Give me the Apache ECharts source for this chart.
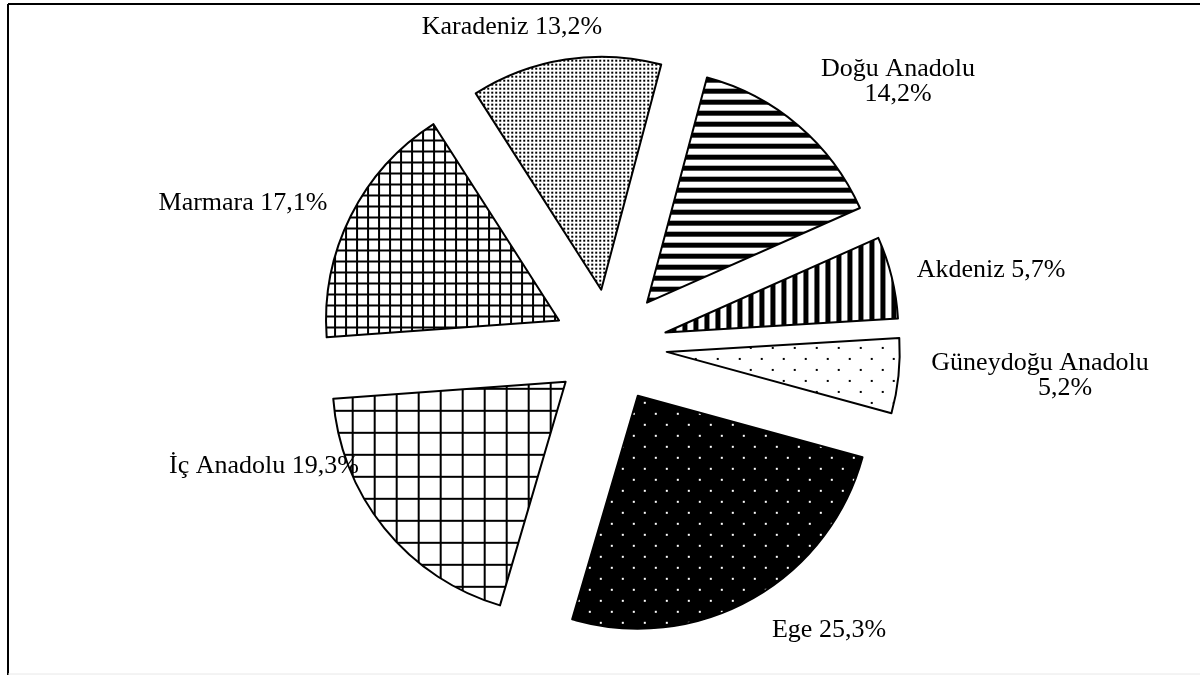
<!DOCTYPE html>
<html>
<head>
<meta charset="utf-8">
<script src="https://cdn.jsdelivr.net/npm/echarts@6/dist/echarts.min.js"></script>
<style>
  html, body { margin: 0; padding: 0; background: #fff; }
  #chart { width: 1200px; height: 675px; }
</style>
</head>
<body>
<div id="chart"></div>
<script>
// ---- Data ----
const regions = ['Karadeniz', 'Doğu Anadolu', 'Akdeniz', 'Güneydoğu Anadolu', 'Ege', 'İç Anadolu', 'Marmara'];
const shares = [13.2, 14.2, 5.7, 5.2, 25.3, 19.3, 17.1];
const wrapLabel = [false, true, false, true, false, false, false];

// ---- Layout (label anchor points, not data) ----
const labelPos = [[512, 27], [898, 82], [991, 270], [1040, 376], [829, 630], [264, 466], [243, 203]];

function tile(w, h, bg, fg, rects) {
  const c = document.createElement('canvas');
  c.width = w; c.height = h;
  const ctx = c.getContext('2d');
  ctx.fillStyle = bg; ctx.fillRect(0, 0, w, h);
  ctx.fillStyle = fg;
  rects.forEach(r => ctx.fillRect(r[0], r[1], r[2], r[3]));
  return c;
}
const patterns = [
  tile(4, 4, '#fff', '#000', [[0, 0, 2, 2]]),                       // dense dots
  tile(11, 11, '#fff', '#000', [[0, 0, 11, 5]]),                    // horizontal stripes
  tile(11, 11, '#fff', '#000', [[0, 0, 5, 11]]),                    // vertical stripes
  tile(22, 22, '#fff', '#000', [[0, 0, 2, 2], [11, 11, 2, 2]]),     // sparse dots
  tile(22, 22, '#000', '#fff', [[0, 0, 2, 2], [11, 11, 2, 2]]),     // black w/ white dots
  tile(22, 22, '#fff', '#000', [[0, 0, 22, 2], [0, 0, 2, 22]]),     // large grid
  tile(11, 11, '#fff', '#000', [[0, 0, 11, 2], [0, 0, 2, 11]])      // small grid
];

const fmt = v => v.toFixed(1).replace('.', ',') + '%';
const FONT = 'Liberation Serif';

const pieBase = {
  type: 'pie',
  center: [610, 346],
  radius: 233,
  startAngle: 122.6,
  clockwise: true,
  avoidLabelOverlap: false,
  emphasis: { disabled: true },
  labelLine: { show: false }
};

const chart = echarts.init(document.getElementById('chart'), null, { renderer: 'canvas' });
chart.setOption({
  backgroundColor: '#fff',
  animation: false,
  graphic: [
    { type: 'line', shape: { x1: 8, y1: 4, x2: 1200, y2: 4 }, style: { stroke: '#000', lineWidth: 2 } },
    { type: 'line', shape: { x1: 8, y1: 4, x2: 8, y2: 675 }, style: { stroke: '#000', lineWidth: 2 } },
    { type: 'line', shape: { x1: 8, y1: 674, x2: 1200, y2: 674 }, style: { stroke: '#e8e8e8', lineWidth: 1 } }
  ],
  series: [
    Object.assign({}, pieBase, {
      name: 'slices',
      selectedMode: 'multiple',
      selectedOffset: 57,
      select: { itemStyle: { borderColor: '#000', borderWidth: 2 } },
      itemStyle: { borderColor: '#000', borderWidth: 2 },
      label: { show: false },
      data: regions.map((name, i) => ({
        name,
        value: shares[i],
        selected: true,
        itemStyle: { color: { image: patterns[i], repeat: 'repeat' } }
      }))
    }),
    Object.assign({}, pieBase, {
      name: 'labels',
      silent: true,
      selectedMode: false,
      z: 3,
      itemStyle: { color: 'rgba(0,0,0,0)', borderWidth: 0 },
      label: {
        show: true,
        position: 'outside',
        fontFamily: FONT,
        fontSize: 26,
        lineHeight: 25,
        color: '#000',
        align: 'center',
        rich: {
          s: { fontFamily: FONT, fontSize: 26, lineHeight: 25, color: '#000', padding: [0, 0, 0, 50] }
        },
        formatter: p => {
          const v = fmt(p.value);
          if (!wrapLabel[p.dataIndex]) return p.name + ' ' + v;
          return p.name + '\n' + (p.dataIndex === 3 ? '{s|' + v + '}' : v);
        }
      },
      labelLayout: p => ({
        x: labelPos[p.dataIndex][0],
        y: labelPos[p.dataIndex][1],
        align: 'center',
        verticalAlign: 'middle'
      }),
      data: regions.map((name, i) => ({ name, value: shares[i] }))
    })
  ]
});
</script>
</body>
</html>
